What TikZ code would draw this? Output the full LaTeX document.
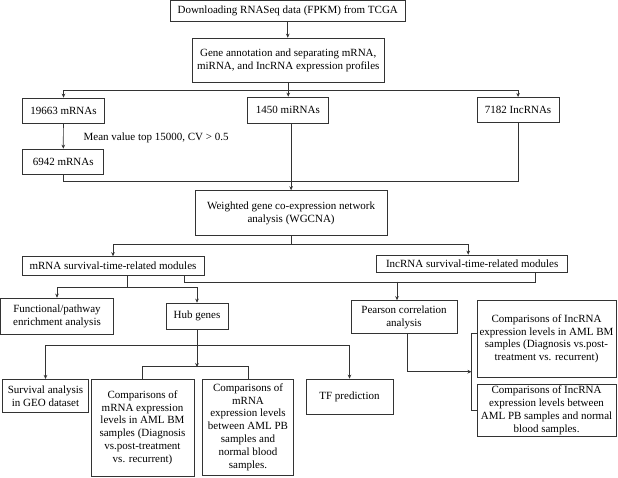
\documentclass[tikz,border=0pt]{standalone}
\usepackage{fontspec}
\setmainfont{Liberation Serif}
\usetikzlibrary{arrows.meta}
\tikzset{
  box/.style={draw=black!80, line width=0.7pt, align=center, inner sep=2pt, font=\fontsize{11}{12.8}\selectfont},
  ln/.style={draw=black!80, line width=0.7pt},
  arr/.style={-{Stealth[length=4pt,width=3.6pt]}}
}
\begin{document}
\begin{tikzpicture}[x=1pt,y=-1pt]
      \useasboundingbox (0,0) rectangle (618,477);
      \node (dl) at (287.75,10.75) [box, minimum width=235.5pt, minimum height=20.5pt] {Downloading RNASeq data (FPKM) from TCGA};
      \node (gene) at (288.25,60.35) [box, minimum width=192.5pt, minimum height=44.7pt] {Gene annotation and separating mRNA,\\miRNA, and IncRNA expression profiles};
      \node (m19663) at (63.5,110.75) [box, minimum width=81.6pt, minimum height=25.5pt] {19663 mRNAs};
      \node (mi1450) at (287.9,110) [box, minimum width=80.8pt, minimum height=26pt] {1450 miRNAs};
      \node (lnc7182) at (518.1,110) [box, minimum width=81.7pt, minimum height=25.3pt] {7182 IncRNAs};
      \node (cv) at (83.5,137.5) [anchor=west, inner sep=0pt, font=\fontsize{11}{12.8}\selectfont] {Mean value top 15000, CV > 0.5};
      \node (m6942) at (63.2,161.75) [box, minimum width=81pt, minimum height=25.5pt] {6942 mRNAs};
      \node (wgcna) at (291.1,213) [box, minimum width=192.2pt, minimum height=45pt] {Weighted gene co-expression network\\analysis (WGCNA)};
      \node (mmod) at (113,265.75) [box, minimum width=182pt, minimum height=18.5pt] {mRNA survival-time-related modules};
      \node (lmod) at (472.2,263.5) [box, minimum width=191pt, minimum height=17pt] {IncRNA survival-time-related modules};
      \node (func) at (57,316) [box, minimum width=113pt, minimum height=36pt] {Functional/pathway\\enrichment analysis};
      \node (hub) at (197,316) [box, minimum width=62pt, minimum height=26pt] {Hub genes};
      \node (pear) at (404,317) [box, minimum width=106pt, minimum height=33pt] {Pearson correlation\\analysis};
      \node (lbm) at (546.5,338.75) [box, minimum width=139pt, minimum height=76.5pt] {Comparisons of IncRNA\\expression levels in AML BM\\samples (Diagnosis vs.post-\\treatment vs. recurrent)};
      \node (lpb) at (546.5,410.25) [box, minimum width=139pt, minimum height=46.5pt] {Comparisons of IncRNA\\expression levels between\\AML PB samples and normal\\blood samples.};
      \node (surv) at (45.5,396) [box, minimum width=86pt, minimum height=33.5pt] {Survival analysis\\in GEO dataset};
      \node (cbm) at (142.5,427.5) [box, minimum width=103pt, minimum height=97pt] {Comparisons of\\mRNA expression\\levels in AML BM\\samples (Diagnosis\\vs.post-treatment\\vs. recurrent)};
      \node (cpb) at (248,427) [box, minimum width=91.5pt, minimum height=96pt] {Comparisons of\\mRNA\\expression levels\\between AML PB\\samples and\\normal blood\\samples.};
      \node (tf) at (349.5,396.5) [box, minimum width=87pt, minimum height=35pt] {TF prediction};
      \coordinate (l1) at (397,281.5);
      \coordinate (brk) at (471.5,371.7);
      \draw [ln, arr] (dl.south) -- (dl.south |- gene.north);
      \draw [ln] (gene.south) -- ++(0,7) coordinate (g1);
      \draw [ln, arr] (g1) -| (m19663);
      \draw [ln, arr] (g1) -| (lnc7182);
      \draw [ln, arr] (g1) -- (g1 |- mi1450.north);
      \draw [ln, arr] (m19663) -- (m6942);
      \draw [ln] (m6942.south) -- ++(0,6.5) -| (lnc7182.south);
      \draw [ln, arr] (wgcna.north |- mi1450.south) -- (wgcna.north);
      \draw [ln] (wgcna.south) -- ++(0,8.5) coordinate (w1);
      \draw [ln, arr] (w1) -| (mmod);
      \draw [ln, arr] (w1) -| ([xshift=-4pt]lmod.north);
      \draw [ln] ([xshift=14pt]mmod.south) -- ++(0,11.5) coordinate (m1);
      \draw [ln, arr] (m1) -| (func);
      \draw [ln, arr] (m1) -| (hub);
      \draw [ln] ([xshift=63pt]lmod.south) -- ++(0,9.5) -| ([xshift=71pt]mmod.south);
      \draw [ln, arr] (l1) -- (l1 |- pear.north);
      \draw [ln] (hub.south) -- ++(0,16) coordinate (h1);
      \draw [ln, arr] (h1) -| (surv);
      \draw [ln, arr] (h1) -| (tf);
      \draw [ln, arr] (h1) -- ++(0,21.7);
      \draw [ln] (cbm.north) -- ++(0,-12.3) -| (cpb.north);
      \draw [ln, arr] ([xshift=3pt]pear.south) |- (brk);
      \draw [ln] ([yshift=5.75pt]lbm.west) -| ([xshift=-5.5pt]lpb.west) -- (lpb.west);
\end{tikzpicture}
\end{document}
